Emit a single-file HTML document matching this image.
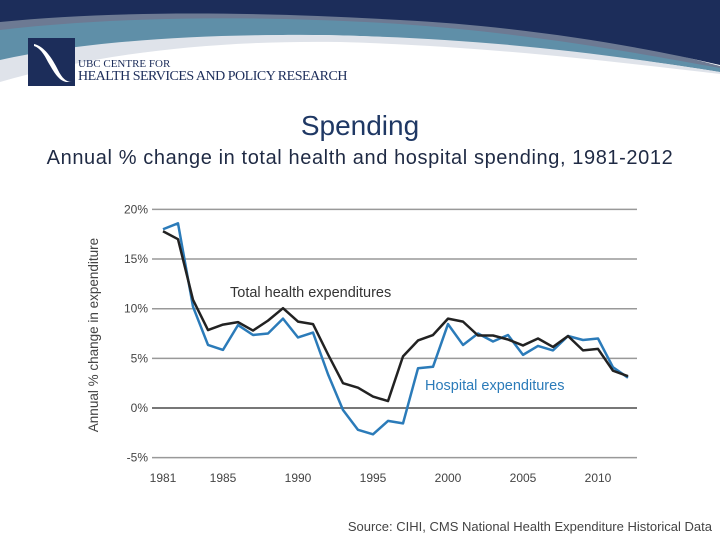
<!DOCTYPE html>
<html><head><meta charset="utf-8"><style>
body{margin:0;width:720px;height:540px;overflow:hidden;background:#fff;font-family:"Liberation Sans",sans-serif;position:relative}
.t{position:absolute;white-space:nowrap}
</style></head><body>
<svg width="720" height="100" style="position:absolute;left:0;top:0">
<path d="M0,14 C120,0 260,-5 420,10 C560,25 660,50 720,66 L720,72 C640,58 520,36 380,30 C220,24 100,40 0,72 Z" fill="#6d7a93"/>
<path d="M0,30 C100,18 240,14 400,24 C540,34 640,54 720,68 L720,72 C620,56 500,42 360,36 C200,30 90,48 0,76 Z" fill="#5f8fa8"/>
<path d="M0,60 C90,40 220,32 360,36 C500,40 620,56 720,72 L720,74 C600,60 480,46 340,42 C200,40 90,56 0,82 Z" fill="#dfe3ea"/>
<path d="M0,0 H720 V65 C640,46 520,26 400,20 C260,12 120,10 0,22 Z" fill="#1c2d5a"/>
<rect x="28" y="38" width="47" height="48" fill="#1c2d5a"/>
<path d="M34,44 C44,46 52,58 58,70 C62,78 66,82 72,82 L66,82 C58,80 54,72 48,62 C44,54 40,48 34,46 Z" fill="#fff"/>
</svg>
<div class="t" style="left:78px;top:58px;font-family:'Liberation Serif',serif;font-size:11px;color:#1c2d5a">UBC CENTRE FOR</div>
<div class="t" style="left:78px;top:69px;font-family:'Liberation Serif',serif;font-size:14px;color:#1c2d5a;letter-spacing:-0.5px">HEALTH SERVICES AND POLICY RESEARCH</div>
<div class="t" style="left:0;width:720px;text-align:center;top:110px;font-size:28px;color:#1f3864">Spending</div>
<div class="t" style="left:0;width:720px;text-align:center;top:147px;font-size:20px;letter-spacing:0.6px;color:#1f2a44">Annual % change in total health and hospital spending, 1981-2012</div>
<svg id="chart" width="720" height="540" style="position:absolute;left:0;top:0"></svg>
<div class="t" style="right:8px;top:519px;font-size:13px;color:#444;letter-spacing:0px">Source: CIHI, CMS National Health Expenditure Historical Data</div>
<script>
const years=[1981,1982,1983,1984,1985,1986,1987,1988,1989,1990,1991,1992,1993,1994,1995,1996,1997,1998,1999,2000,2001,2002,2003,2004,2005,2006,2007,2008,2009,2010,2011,2012];
const totalHealth=[17.8,17.0,10.9,7.85,8.4,8.65,7.8,8.8,10.05,8.7,8.45,5.4,2.5,2.05,1.15,0.7,5.2,6.8,7.35,9.0,8.7,7.3,7.3,6.9,6.3,7.0,6.15,7.25,5.8,5.95,3.75,3.2];
const hospital=[18.0,18.6,10.2,6.35,5.85,8.35,7.35,7.5,9.0,7.1,7.6,3.4,-0.2,-2.2,-2.65,-1.3,-1.55,4.0,4.15,8.45,6.35,7.5,6.7,7.35,5.35,6.25,5.8,7.25,6.85,7.0,4.1,3.05];
const yTicks=[20,15,10,5,0,-5];
const xTicks=[1981,1985,1990,1995,2000,2005,2010];
const svg=document.getElementById('chart');
const NS='http://www.w3.org/2000/svg';
const X=y=>163+(y-1981)*15.0;
const Y=v=>408-v*9.93;
function mk(t,a){const e=document.createElementNS(NS,t);for(const k in a)e.setAttribute(k,a[k]);svg.appendChild(e);return e;}
yTicks.forEach(v=>{
 const l=mk('line',{x1:152,x2:637,y1:Y(v),y2:Y(v),stroke:v===0?'#777':'#999','stroke-width':v===0?2:1.5});
 
 
 const t=mk('text',{x:148,y:Y(v)+4,'text-anchor':'end','font-size':12,fill:'#444','font-family':'Liberation Sans, sans-serif'});
 t.textContent=v+'%';
 
 
});
xTicks.forEach(yr=>{
 const t=mk('text',{x:X(yr),y:482,'text-anchor':'middle','font-size':12,fill:'#444','font-family':'Liberation Sans, sans-serif'});
 t.textContent=yr;
 
 
});
const yt=mk('text',{x:0,y:0,transform:'translate(98,335) rotate(-90)','text-anchor':'middle','font-size':13.5,fill:'#444','font-family':'Liberation Sans, sans-serif'});
yt.textContent='Annual % change in expenditure';


function line(data,color,name){
 const p=mk('polyline',{points:data.map((v,i)=>X(years[i])+','+Y(v)).join(' '),fill:'none',stroke:color,'stroke-width':2.5,'stroke-linejoin':'round'});
 
 
}
line(hospital,'#2b7bb9','hospital-line');
line(totalHealth,'#222','total-health-line');
const l1=mk('text',{x:230,y:297,'font-size':14.5,fill:'#333','font-family':'Liberation Sans, sans-serif'});
l1.textContent='Total health expenditures';


const l2=mk('text',{x:425,y:390,'font-size':14.5,fill:'#2b7bb9','font-family':'Liberation Sans, sans-serif'});
l2.textContent='Hospital expenditures';


</script>
</body></html>
